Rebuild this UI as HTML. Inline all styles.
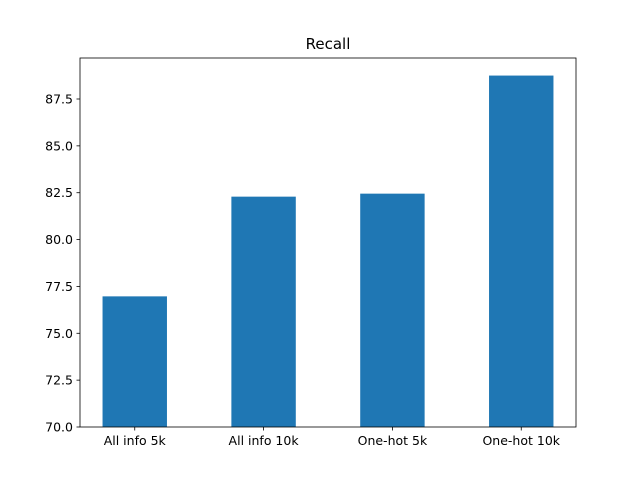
<!DOCTYPE html>
<html><head><meta charset="utf-8"><style>body{margin:0;background:#fff}svg{display:block;font-family:"DejaVu Sans","Liberation Sans",sans-serif}</style></head>
<body>
<svg id="c" width="640" height="480"></svg>
<script>
const categories=["All info 5k","All info 10k","One-hot 5k","One-hot 10k"];
const values=[76.97,82.29,82.45,88.75];
const yTicks=[70.0,72.5,75.0,77.5,80.0,82.5,85.0,87.5];
const NS="http://www.w3.org/2000/svg";
const svg=document.getElementById('c');
const L=80,R=576,T=58,B=427;
const yMin=70,yMax=70+(88.75-70)*1.05;
const xMin=-0.425,xMax=3.425;
const sx=v=>L+(v-xMin)/(xMax-xMin)*(R-L);
const sy=v=>B-(v-yMin)/(yMax-yMin)*(B-T);
function mk(t,a,txt){const e=document.createElementNS(NS,t);for(const k in a)e.setAttribute(k,a[k]);if(txt!==undefined)e.textContent=txt;svg.appendChild(e);return e;}
values.forEach((v,i)=>{
 const b=mk('rect',{x:sx(i-0.25),y:sy(v),width:sx(i+0.25)-sx(i-0.25),height:B-sy(v),fill:'#1f77b4'});
 
 
 const tk=mk('line',{x1:sx(i),x2:sx(i),y1:B,y2:B+3.5,stroke:'#000','stroke-width':0.8});
 
 
 const lb=mk('text',{x:sx(i),y:B+18,'text-anchor':'middle','font-size':12.5},categories[i]);
 
 
});
yTicks.forEach(v=>{
 const tk=mk('line',{x1:L-3.5,x2:L,y1:sy(v),y2:sy(v),stroke:'#000','stroke-width':0.8});
 
 
 const lb=mk('text',{x:L-7,y:sy(v)+4.5,'text-anchor':'end','font-size':12.5},v.toFixed(1));
 
 
});
const f=mk('rect',{x:L,y:T,width:R-L,height:B-T,fill:'none',stroke:'#000','stroke-width':0.8});


const t=mk('text',{x:(L+R)/2,y:T-9,'text-anchor':'middle','font-size':15},'Recall');


</script>
</body></html>
